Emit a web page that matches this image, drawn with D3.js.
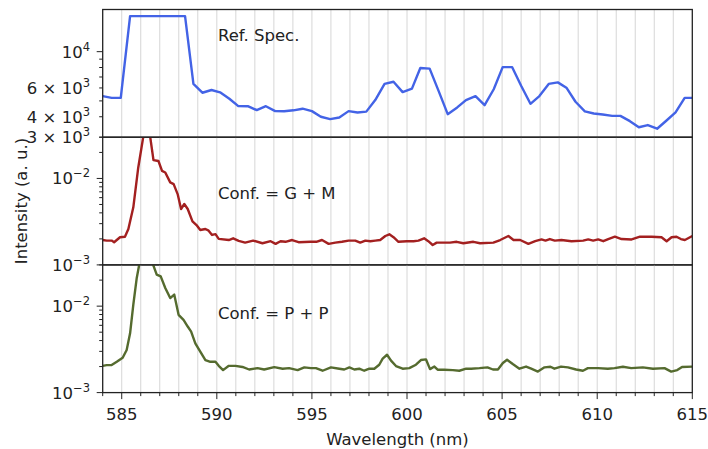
<!DOCTYPE html>
<html>
<head>
<meta charset="utf-8">
<script src="https://cdn.jsdelivr.net/npm/d3@7"></script>
<style>
  body { margin: 0; background: #fff; }
  text { font-family: "DejaVu Sans", sans-serif; fill: #222; }
</style>
</head>
<body>
<script>
// reference spectrum (top panel)
const refWl = [584.00,584.47,584.95,585.44,585.92,586.40,586.88,587.36,587.84,588.33,588.77,589.24,589.72,590.17,590.66,591.13,591.63,592.10,592.58,593.07,593.54,594.03,594.51,595.00,595.47,595.96,596.44,596.93,597.40,597.86,598.33,598.82,599.29,599.77,600.26,600.70,601.19,601.67,602.14,602.64,603.10,603.60,604.08,604.56,605.03,605.53,606.00,606.49,606.96,607.45,607.93,608.38,608.86,609.35,609.82,610.29,610.79,611.22,611.72,612.19,612.66,613.15,613.63,614.12,614.60,615.00];
const refVal = [5350,5220,5220,16500,16500,16500,16500,16500,16500,16500,6350,5610,5830,5640,5150,4650,4640,4390,4640,4330,4320,4380,4480,4330,4000,3870,3960,4330,4250,4300,5060,6350,6550,5660,5940,7950,7880,5720,4150,4560,5060,5350,4710,5890,8040,8040,6190,4800,5350,6350,6490,6020,4940,4320,4190,4130,4050,4050,3760,3450,3560,3380,3780,4250,5220,5220];

// Conf. = G + M (middle panel)
const gmWl = [584.00,584.21,584.47,584.60,584.91,585.17,585.35,585.61,585.87,586.14,586.30,586.49,586.67,586.93,587.12,587.29,587.55,587.73,587.94,588.12,588.29,588.47,588.72,588.96,589.13,589.40,589.57,589.75,589.93,590.10,590.63,590.86,591.15,591.49,591.91,592.40,592.83,593.09,593.35,593.61,593.96,594.30,594.92,595.23,595.53,595.88,596.23,596.58,596.93,597.28,597.54,597.81,598.07,598.33,598.59,598.86,599.07,599.29,599.55,599.99,600.34,600.60,600.90,601.12,601.35,601.56,601.91,602.26,602.61,602.96,603.49,603.84,604.54,604.90,605.33,605.60,605.95,606.38,606.74,607.07,607.28,607.51,607.77,608.12,608.65,609.26,609.53,609.79,610.05,610.32,610.58,610.93,611.28,611.81,612.25,612.86,613.38,613.65,613.91,614.17,614.40,614.61,615.00];
const gmVal = [0.00194,0.00191,0.00191,0.00183,0.00209,0.00212,0.0026,0.00464,0.0134,0.031,0.045,0.031,0.0163,0.0159,0.01224,0.01173,0.0090,0.0086,0.00659,0.00443,0.00506,0.00443,0.00319,0.00284,0.00253,0.0026,0.00249,0.00222,0.00227,0.0020,0.00194,0.00203,0.0019,0.00181,0.00191,0.00178,0.00188,0.00175,0.00188,0.00185,0.00194,0.00183,0.00185,0.00185,0.00194,0.00175,0.00181,0.00185,0.00191,0.00191,0.00181,0.00191,0.00188,0.00191,0.00194,0.00216,0.00226,0.00209,0.00185,0.00188,0.00188,0.00191,0.00203,0.00188,0.0017,0.00181,0.00181,0.00181,0.00185,0.00178,0.00185,0.00178,0.00181,0.00194,0.00216,0.00194,0.00194,0.00175,0.00188,0.00197,0.00191,0.00199,0.00191,0.00194,0.00188,0.00191,0.00197,0.00191,0.00197,0.00188,0.00199,0.00212,0.00199,0.00197,0.00212,0.00212,0.00209,0.00188,0.00209,0.00212,0.00199,0.00194,0.00216];

// Conf. = P + P (bottom panel)
const ppWl = [584.00,584.21,584.47,584.74,585.05,585.26,585.44,585.61,585.79,585.93,586.25,586.63,586.84,587.05,587.29,587.55,587.76,587.99,588.25,588.47,588.65,588.87,589.13,589.40,589.66,589.93,590.10,590.33,590.63,590.98,591.35,591.70,592.14,592.49,593.02,593.46,593.80,594.25,594.60,594.95,595.21,595.56,596.00,596.44,596.70,596.97,597.23,597.49,597.75,598.02,598.28,598.54,598.72,598.95,599.16,599.42,599.77,600.12,600.47,600.73,601.00,601.21,601.44,601.61,601.96,602.41,602.75,603.11,603.37,603.81,604.23,604.52,604.78,605.04,605.26,605.56,605.91,606.26,606.53,606.88,607.23,607.54,607.75,608.10,608.46,608.89,609.25,609.51,610.04,610.56,610.91,611.35,611.79,612.40,612.93,613.54,613.89,614.21,614.46,615.00];
const ppVal = [0.00204,0.00208,0.00208,0.00227,0.00253,0.00311,0.00485,0.0104,0.0212,0.031,0.05,0.031,0.0232,0.0221,0.0162,0.0124,0.0136,0.00794,0.00695,0.00581,0.00508,0.00371,0.00297,0.00238,0.00227,0.00227,0.00204,0.00182,0.00204,0.00204,0.00198,0.00185,0.00192,0.00185,0.00197,0.00189,0.00192,0.00182,0.00196,0.00192,0.00192,0.00179,0.00196,0.00189,0.00185,0.00196,0.00185,0.00189,0.00179,0.00189,0.00189,0.0021,0.00247,0.00274,0.00234,0.00203,0.00189,0.00192,0.0021,0.00238,0.00242,0.00187,0.0020,0.00184,0.00184,0.00182,0.00179,0.00189,0.00189,0.00192,0.00196,0.00185,0.00185,0.0022,0.0024,0.00214,0.00189,0.0020,0.00189,0.00175,0.00196,0.00199,0.00189,0.0020,0.00196,0.00185,0.00179,0.00192,0.00192,0.00189,0.00192,0.00199,0.00192,0.00196,0.00189,0.00192,0.00175,0.00182,0.00198,0.0020];

const xMajor = [585, 590, 595, 600, 605, 610, 615];
const xMinor = d3.range(584, 616);
const refTicks = [3000, 4000, 5000, 6000, 7000, 8000, 9000, 10000];
const refLabels = {3000: ["3 × 10", "3"], 4000: ["4 × 10", "3"], 6000: ["6 × 10", "3"], 10000: ["10", "4"]};
const confTicks = [0.001, 0.002, 0.003, 0.004, 0.005, 0.006, 0.007, 0.008, 0.009, 0.01, 0.02, 0.03];
const confLabels = {0.001: ["10", "−3"], 0.01: ["10", "−2"]};
const confMajor = [0.001, 0.01];

const W = 708, H = 449;
const pLeft = 102.7, pRight = 692.3, pTop = 9.5, ph = 127.7;

const svg = d3.select("body").append("svg")
  .attr("width", W).attr("height", H);

const x = d3.scaleLinear().domain([584, 615]).range([pLeft, pRight]);

const panels = [
  {wl: refWl, val: refVal, dom: [3000, 18100], color: "#4363e6", ticks: refTicks, labels: refLabels, major: [10000], text: "Ref. Spec.", ty: 40.5},
  {wl: gmWl, val: gmVal, dom: [0.001, 0.03], color: "#a32020", ticks: confTicks, labels: confLabels, major: confMajor, text: "Conf. = G + M", ty: 198.5},
  {wl: ppWl, val: ppVal, dom: [0.001, 0.03], color: "#556b2f", ticks: confTicks, labels: confLabels, major: confMajor, text: "Conf. = P + P", ty: 318.5}
];

panels.forEach(function (p, i) {
  const y0 = pTop + i * ph, y1 = y0 + ph;
  const y = d3.scaleLog().domain(p.dom).range([y1, y0]);

  svg.append("clipPath").attr("id", "clip" + i)
    .append("rect").attr("x", pLeft).attr("y", y0).attr("width", pRight - pLeft).attr("height", ph);

  // vertical grid every nm
  svg.append("g").selectAll("line")
    .data(xMinor.filter(function (d) { return d > 584 && d < 615; }))
    .enter().append("line")
    .attr("x1", function (d) { return x(d); }).attr("x2", function (d) { return x(d); })
    .attr("y1", y0).attr("y2", y1)
    .attr("stroke", "#d6d6d6").attr("stroke-width", 1);

  svg.append("path")
    .datum(d3.zip(p.wl, p.val))
    .attr("clip-path", "url(#clip" + i + ")")
    .attr("fill", "none")
    .attr("stroke", p.color)
    .attr("stroke-width", 2.4)
    .attr("stroke-linejoin", "round")
    .attr("d", d3.line()
      .x(function (d) { return x(d[0]); })
      .y(function (d) { return y(d[1]); }));

  // y ticks
  svg.append("g").selectAll("line")
    .data(p.ticks)
    .enter().append("line")
    .attr("x1", pLeft)
    .attr("x2", function (d) { return pLeft - (p.major.indexOf(d) >= 0 ? 6 : 3.5); })
    .attr("y1", function (d) { return y(d); }).attr("y2", function (d) { return y(d); })
    .attr("stroke", "#222").attr("stroke-width", 1);

  p.ticks.filter(function (d) { return p.labels[d]; }).forEach(function (d) {
    const t = svg.append("text")
      .attr("x", 90).attr("y", y(d) + 6)
      .attr("text-anchor", "end")
      .attr("font-size", 16.5);
    t.append("tspan").text(p.labels[d][0]);
    t.append("tspan").attr("dy", -7).attr("font-size", 11.5).text(p.labels[d][1]);
  });

  svg.append("text")
    .attr("x", 218).attr("y", p.ty)
    .attr("font-size", 16.5)
    .text(p.text);

  svg.append("rect")
    .attr("x", pLeft).attr("y", y0).attr("width", pRight - pLeft).attr("height", ph)
    .attr("fill", "none").attr("stroke", "#222").attr("stroke-width", 1.3);
});

// x axis on bottom panel
const yb = pTop + 3 * ph;
svg.append("g").selectAll("line")
  .data(xMinor)
  .enter().append("line")
  .attr("x1", function (d) { return x(d); }).attr("x2", function (d) { return x(d); })
  .attr("y1", yb)
  .attr("y2", function (d) { return yb + (xMajor.indexOf(d) >= 0 ? 6.5 : 3.5); })
  .attr("stroke", "#222").attr("stroke-width", 1);

svg.append("g").selectAll("text")
  .data(xMajor)
  .enter().append("text")
  .attr("x", function (d) { return x(d); })
  .attr("y", 419.5)
  .attr("text-anchor", "middle")
  .attr("font-size", 16.5)
  .text(function (d) { return d; });

svg.append("text")
  .attr("x", (pLeft + pRight) / 2).attr("y", 445)
  .attr("text-anchor", "middle")
  .attr("font-size", 16.5)
  .text("Wavelength (nm)");

svg.append("text")
  .attr("transform", "translate(27," + (pTop + 1.5 * ph) + ") rotate(-90)")
  .attr("text-anchor", "middle")
  .attr("font-size", 16.5)
  .text("Intensity (a. u.)");
</script>
</body>
</html>
